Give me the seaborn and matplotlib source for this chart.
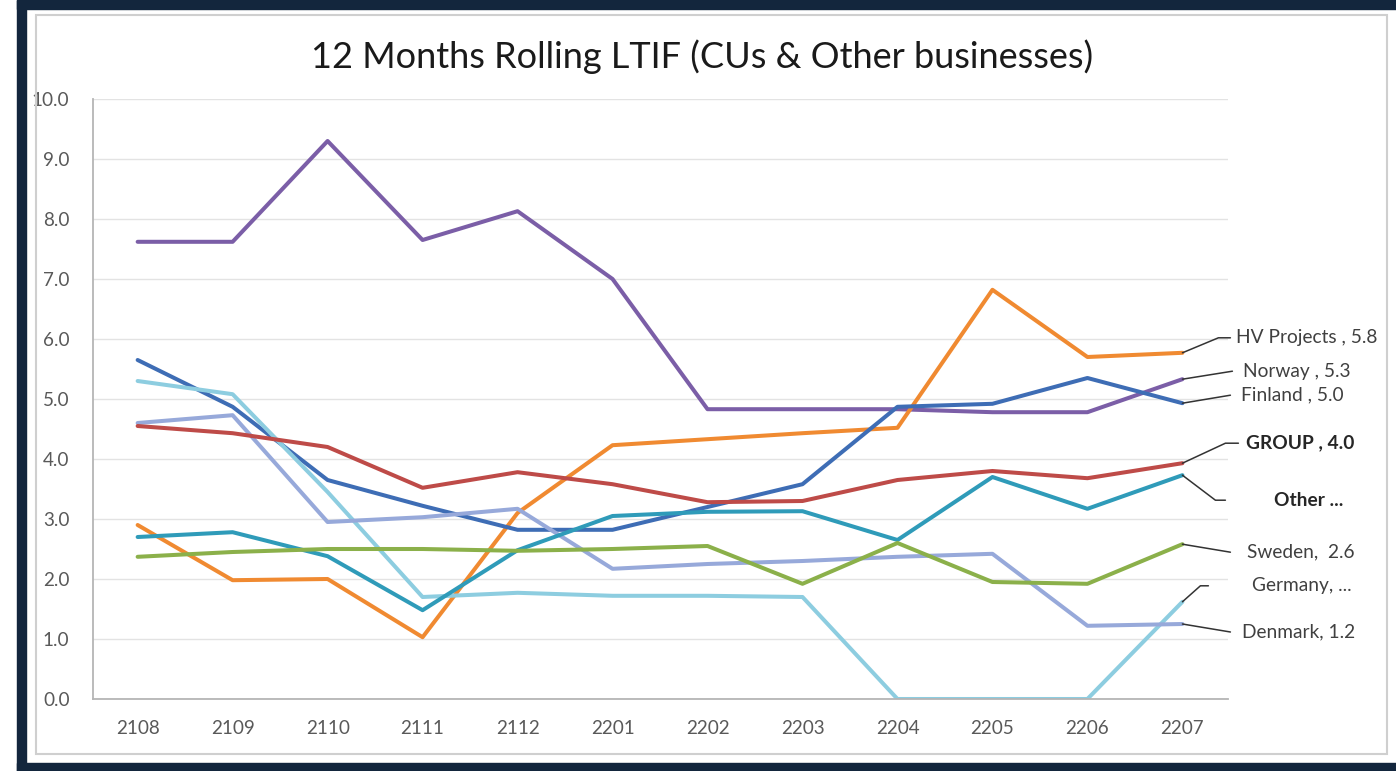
import pandas as pd
import matplotlib.pyplot as plt
import seaborn as sns
from matplotlib.patches import Rectangle

# Dados
months = ['2108', '2109', '2110', '2111', '2112', '2201',
          '2202', '2203', '2204', '2205', '2206', '2207']

norway = [7.62, 7.62, 9.30, 7.65, 8.13, 7.00, 4.83, 4.83, 4.83, 4.78, 4.78, 5.33]
hv_projects = [2.90, 1.98, 2.00, 1.03, 3.10, 4.23, 4.33, 4.43, 4.52, 6.82, 5.70, 5.77]
finland = [5.65, 4.87, 3.65, 3.22, 2.82, 2.82, 3.20, 3.58, 4.87, 4.92, 5.35, 4.93]
germany = [5.30, 5.08, 3.45, 1.70, 1.77, 1.72, 1.72, 1.70, 0.00, 0.00, 0.00, 1.62]
denmark = [4.60, 4.73, 2.95, 3.03, 3.17, 2.17, 2.25, 2.30, 2.37, 2.42, 1.22, 1.25]
group = [4.55, 4.43, 4.20, 3.52, 3.78, 3.58, 3.28, 3.30, 3.65, 3.80, 3.68, 3.93]
other = [2.70, 2.78, 2.38, 1.48, 2.48, 3.05, 3.12, 3.13, 2.65, 3.70, 3.17, 3.73]
sweden = [2.37, 2.45, 2.50, 2.50, 2.47, 2.50, 2.55, 1.92, 2.60, 1.95, 1.92, 2.58]

series = {
    'Norway': norway,
    'HV Projects': hv_projects,
    'Finland': finland,
    'Germany': germany,
    'Denmark': denmark,
    'GROUP': group,
    'Other': other,
    'Sweden': sweden,
}

labels = {
    'HV Projects': 'HV Projects , 5.8',
    'Norway': 'Norway , 5.3',
    'Finland': 'Finland , 5.0',
    'GROUP': 'GROUP , 4.0',
    'Other': 'Other ...',
    'Sweden': 'Sweden,  2.6',
    'Germany': 'Germany, ...',
    'Denmark': 'Denmark, 1.2',
}

cores = {
    'Norway': '#7B5EA7',
    'HV Projects': '#F08A31',
    'Finland': '#3E6DB5',
    'Germany': '#8DCDE0',
    'Denmark': '#97A9DA',
    'GROUP': '#BE4B48',
    'Other': '#2F9BB9',
    'Sweden': '#8BB04A',
}

df = pd.DataFrame([
    {'mes': m, 'pos': i, 'serie': nome, 'ltif': v}
    for nome, vals in series.items()
    for i, (m, v) in enumerate(zip(months, vals))
])

sns.set_theme(style='white')
plt.rcParams['font.family'] = ['Lato', 'DejaVu Sans']

fig = plt.figure(figsize=(13.96, 7.71), dpi=100)
fig.patch.set_facecolor('white')

# Moldura escura + borda interna cinza (estilo captura de tela)
fig.patches.append(Rectangle((17 / 1396, 0), 9 / 1396, 1, transform=fig.transFigure,
                             color='#13263d', zorder=0))
fig.patches.append(Rectangle((17 / 1396, 1 - 9 / 771), 1, 9 / 771, transform=fig.transFigure,
                             color='#13263d', zorder=0))
fig.patches.append(Rectangle((17 / 1396, 0), 1, 8 / 771, transform=fig.transFigure,
                             color='#13263d', zorder=0))
fig.patches.append(Rectangle((36 / 1396, 1 - 754 / 771), (1387 - 36) / 1396, (754 - 15) / 771,
                             transform=fig.transFigure, fill=False, edgecolor='#cfcfcf',
                             lw=1.5, zorder=0))

ax = fig.add_axes([93 / 1396, 1 - 699 / 771, (1228 - 93) / 1396, 600 / 771])
ax.set_facecolor('none')

sns.lineplot(data=df, x='pos', y='ltif', hue='serie', palette=cores,
             hue_order=list(series.keys()), linewidth=2.9, legend=False, ax=ax)

ax.set_xlim(-0.47, 11.48)
ax.set_ylim(0, 10)
ax.set_xticks(range(len(months)))
ax.set_xticklabels(months)
ax.set_yticks([i for i in range(11)])
ax.set_yticklabels([f'{i:.1f}' for i in range(11)])
ax.tick_params(axis='y', length=0, pad=17, labelsize=13.6, labelcolor='#595959')
ax.tick_params(axis='x', length=0, pad=15, labelsize=13.6, labelcolor='#595959')
ax.set_xlabel('')
ax.set_ylabel('')
ax.grid(axis='y', color='#e3e3e3', lw=1)
ax.set_axisbelow(True)
for s in ['top', 'right']:
    ax.spines[s].set_visible(False)
for s in ['left', 'bottom']:
    ax.spines[s].set_color('#b5b5b5')
    ax.spines[s].set_linewidth(1.3)

fig.text(702 / 1396, 1 - 57 / 771, '12 Months Rolling LTIF (CUs & Other businesses)',
         ha='center', va='center', fontsize=26, color='#1a1a1a')

# Rótulos com linhas de chamada (deslocamentos em pixels a partir do último ponto)
chamadas = {
    'HV Projects': [(36, 15), (48, 15)],
    'Norway': [(50, 8)],
    'Finland': [(48, 8)],
    'GROUP': [(43, 20), (56, 20)],
    'Other': [(33, -25), (43, -25)],
    'Sweden': [(48, -8)],
    'Germany': [(18, 16), (26, 16)],
    'Denmark': [(48, -8)],
}
texto_x = {'HV Projects': 54, 'Norway': 61, 'Finland': 59, 'GROUP': 64,
           'Other': 92, 'Sweden': 65, 'Germany': 70, 'Denmark': 60}

fig.canvas.draw()
for nome, pts in chamadas.items():
    x0, y0 = ax.transData.transform((len(months) - 1, series[nome][-1]))
    xs = [x0] + [x0 + dx for dx, dy in pts]
    ys = [y0] + [y0 + dy for dx, dy in pts]
    fig.add_artist(plt.Line2D(xs, ys, transform=None, color='#333333', lw=1.1))
    bold = nome in ('GROUP', 'Other')
    fig.text(x0 + texto_x[nome], y0 + pts[-1][1], labels[nome], transform=None,
             ha='left', va='center', fontsize=13.8, color='#262626' if bold else '#404040',
             fontweight='bold' if bold else 'normal')

plt.savefig('out.png', dpi=100, facecolor='white')
plt.close()
